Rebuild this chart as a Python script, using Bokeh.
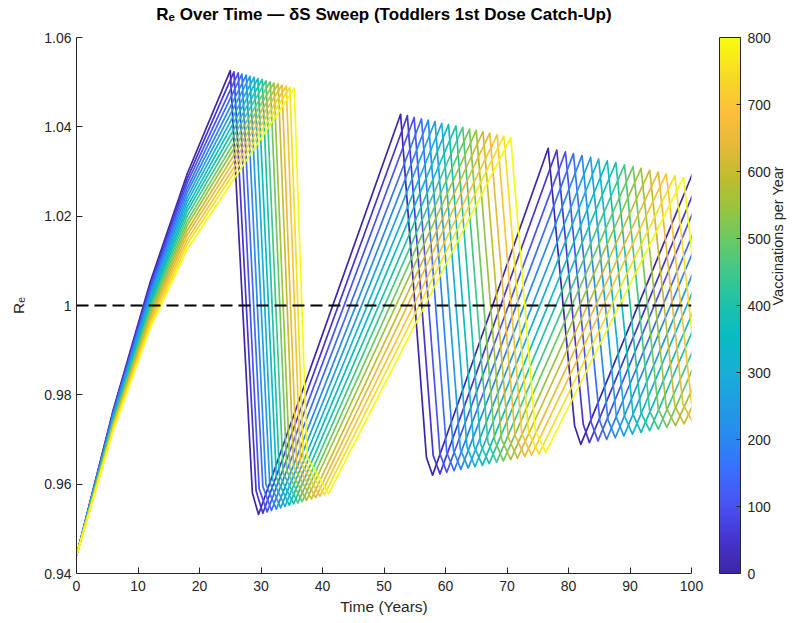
import math
from bokeh.plotting import figure
from bokeh.models import (ColumnDataSource, LinearColorMapper, ColorBar, FixedTicker, Span,
                          LinearAxis, Range1d, Title)
from bokeh.embed import file_html
from bokeh.resources import INLINE

# ---------------- data ----------------
vaccinations = [0, 50, 100, 150, 200, 250, 300, 350, 400, 450, 500, 550, 600, 650, 700, 750, 800]
R_start = 0.944
# first rise, sampled at t = 6, 12, 18 years
rise_t = [6.0, 12.0, 18.0]
R6 = [0.9768, 0.9765, 0.9762, 0.9759, 0.9756, 0.9753, 0.9750, 0.9747, 0.9745, 0.9742, 0.9739,
      0.9736, 0.9733, 0.9730, 0.9727, 0.9724, 0.9721]
R12 = [1.0053, 1.0047, 1.0040, 1.0034, 1.0027, 1.0021, 1.0014, 1.0008, 1.0002, 0.9995, 0.9989,
       0.9982, 0.9976, 0.9969, 0.9963, 0.9956, 0.9950]
R18 = [1.0295, 1.0284, 1.0274, 1.0263, 1.0253, 1.0242, 1.0232, 1.0221, 1.0211, 1.0200, 1.0189,
       1.0179, 1.0168, 1.0158, 1.0147, 1.0137, 1.0126]
# first peak
T1 = [25.0, 25.6, 26.3, 26.9, 27.6, 28.2, 28.9, 29.5, 30.2, 30.8, 31.5, 32.1, 32.8, 33.4, 34.1, 34.7, 35.4]
P1 = [1.0526, 1.0523, 1.0521, 1.0518, 1.0516, 1.0513, 1.0511, 1.0508, 1.0506, 1.0503, 1.0501,
      1.0498, 1.0496, 1.0493, 1.0491, 1.0488, 1.0486]
# end of the first steep fall
K1t = [28.6, 29.2, 29.7, 30.3, 30.8, 31.4, 31.9, 32.5, 33.0, 33.6, 34.2, 34.7, 35.3, 35.8, 36.4, 36.9, 37.5]
K1v = [0.9580, 0.9585, 0.9590, 0.9595, 0.9600, 0.9605, 0.9610, 0.9615, 0.9620, 0.9625, 0.9630,
       0.9635, 0.9640, 0.9645, 0.9650, 0.9655, 0.9660]
# first trough
U1 = [29.6, 30.3, 31.0, 31.7, 32.5, 33.2, 33.9, 34.6, 35.3, 36.0, 36.7, 37.4, 38.2, 38.9, 39.6, 40.3, 41.0]
V1 = [0.9532, 0.9535, 0.9538, 0.9541, 0.9544, 0.9547, 0.9550, 0.9553, 0.9556, 0.9558, 0.9561,
      0.9564, 0.9567, 0.9570, 0.9573, 0.9576, 0.9579]
# second peak
T2 = [52.7, 53.8, 54.9, 56.1, 57.2, 58.3, 59.4, 60.5, 61.7, 62.8, 63.9, 65.0, 66.1, 67.2, 68.4, 69.5, 70.6]
P2 = [1.0428, 1.0425, 1.0421, 1.0418, 1.0415, 1.0412, 1.0408, 1.0405, 1.0402, 1.0399, 1.0395,
      1.0392, 1.0389, 1.0386, 1.0382, 1.0379, 1.0376]
K2t = [56.9, 58.0, 59.1, 60.2, 61.3, 62.4, 63.5, 64.6, 65.7, 66.9, 68.0, 69.1, 70.2, 71.3, 72.4, 73.5, 74.6]
K2v = [0.9660, 0.9664, 0.9668, 0.9671, 0.9675, 0.9679, 0.9683, 0.9686, 0.9690, 0.9694, 0.9698,
       0.9701, 0.9705, 0.9709, 0.9713, 0.9716, 0.9720]
# second trough
U2 = [57.9, 59.1, 60.2, 61.4, 62.5, 63.7, 64.8, 66.0, 67.1, 68.3, 69.4, 70.6, 71.7, 72.9, 74.0, 75.2, 76.3]
V2 = [0.9620, 0.9623, 0.9626, 0.9630, 0.9633, 0.9636, 0.9639, 0.9642, 0.9646, 0.9649, 0.9652,
      0.9655, 0.9658, 0.9662, 0.9665, 0.9668, 0.9671]
# third peak
T3 = [76.7, 78.1, 79.5, 80.8, 82.2, 83.6, 84.9, 86.3, 87.7, 89.1, 90.5, 91.8, 93.2, 94.6, 95.9, 97.3, 98.7]
P3 = [1.0352, 1.0348, 1.0344, 1.0340, 1.0336, 1.0332, 1.0328, 1.0324, 1.0320, 1.0315, 1.0311,
      1.0307, 1.0303, 1.0299, 1.0295, 1.0291, 1.0287]
K3t = [81.0, 82.4, 83.7, 85.1, 86.4, 87.8, 89.1, 90.5, 91.8, 93.2, 94.6, 95.9, 97.3, 98.6, 100.0, 101.3, 102.7]
K3v = [0.9730, 0.9734, 0.9738, 0.9741, 0.9745, 0.9749, 0.9753, 0.9756, 0.9760, 0.9764, 0.9768,
       0.9771, 0.9775, 0.9779, 0.9783, 0.9786, 0.9790]
# third trough
U3 = [82.0, 83.4, 84.8, 86.2, 87.6, 89.0, 90.4, 91.8, 93.2, 94.6, 96.0, 97.4, 98.8, 100.2, 101.6, 103.0, 104.4]
V3 = [0.9689, 0.9693, 0.9697, 0.9700, 0.9704, 0.9708, 0.9712, 0.9716, 0.9720, 0.9723, 0.9727,
      0.9731, 0.9735, 0.9739, 0.9742, 0.9746, 0.9750]
# fourth rise (continues past the right edge)
t_end = 106.0
R_end = [1.049, 1.044, 1.040, 1.035, 1.031, 1.026, 1.022, 1.017, 1.013, 1.008, 1.004,
         0.999, 0.995, 0.990, 0.986, 0.981, 0.977]

x_ticks = [0, 10, 20, 30, 40, 50, 60, 70, 80, 90, 100]
y_ticks = [0.94, 0.96, 0.98, 1.0, 1.02, 1.04, 1.06]
y_tick_labels = ["0.94", "0.96", "0.98", "1", "1.02", "1.04", "1.06"]
cb_ticks = [0, 100, 200, 300, 400, 500, 600, 700, 800]
threshold = 1.0

# ---------------- styling ----------------
FONT = "Liberation Sans"
AX = "#262626"
parula_stops = [
    (0.00, (62, 38, 168)), (0.07, (70, 56, 212)), (0.13, (72, 84, 245)), (0.20, (56, 114, 254)),
    (0.26, (40, 140, 240)), (0.32, (32, 158, 228)), (0.38, (22, 176, 213)), (0.44, (8, 187, 196)),
    (0.50, (28, 194, 170)), (0.56, (62, 199, 140)), (0.62, (104, 201, 102)), (0.68, (150, 197, 64)),
    (0.74, (192, 188, 46)), (0.80, (228, 186, 56)), (0.86, (252, 190, 58)), (0.92, (246, 214, 40)),
    (1.00, (249, 251, 14)),
]
palette = []
for i in range(256):
    f = i / 255
    for j in range(len(parula_stops) - 1):
        a, ca = parula_stops[j]
        b, cb_ = parula_stops[j + 1]
        if a <= f <= b:
            w = (f - a) / (b - a)
            c = [round(ca[k] + w * (cb_[k] - ca[k])) for k in range(3)]
            palette.append("#%02x%02x%02x" % tuple(c))
            break

mapper = LinearColorMapper(palette=palette, low=0, high=800)

xs, ys = [], []
for i in range(len(vaccinations)):
    xs.append([0.0] + rise_t + [T1[i], K1t[i], U1[i], T2[i], K2t[i], U2[i],
                                T3[i], K3t[i], U3[i], t_end])
    ys.append([R_start, R6[i], R12[i], R18[i], P1[i], K1v[i], V1[i], P2[i], K2v[i], V2[i],
               P3[i], K3v[i], V3[i], R_end[i]])

src = ColumnDataSource(dict(xs=xs, ys=ys, v=vaccinations))

p = figure(frame_width=615, frame_height=536, x_range=(0, 100), y_range=(0.94, 1.06),
           output_backend="svg", toolbar_location=None,
           min_border_left=76, min_border_top=37, min_border_bottom=0, min_border_right=0)
p.background_fill_color = "white"
p.border_fill_color = "white"
p.outline_line_color = None
p.xgrid.grid_line_color = None
p.ygrid.grid_line_color = None

p.multi_line("xs", "ys", source=src, line_color={"field": "v", "transform": mapper},
             line_width=1.7, line_join="round")

p.add_layout(Span(location=threshold, dimension="width", line_color="black",
                  line_dash="12 6", line_width=2))

for ax in (p.xaxis[0], p.yaxis[0]):
    ax.axis_line_color = AX
    ax.major_tick_line_color = AX
    ax.major_tick_in = 6
    ax.major_tick_out = 0
    ax.minor_tick_line_color = None
    ax.major_label_text_font = FONT
    ax.major_label_text_font_size = "14px"
    ax.major_label_text_color = AX
    ax.axis_label_text_font = FONT
    ax.axis_label_text_font_size = "15.5px"
    ax.axis_label_text_font_style = "normal"
    ax.axis_label_text_color = AX

p.xaxis.ticker = FixedTicker(ticks=x_ticks)
p.yaxis.ticker = FixedTicker(ticks=y_ticks)
p.yaxis.major_label_overrides = {t: s for t, s in zip(y_ticks, y_tick_labels)}
p.xaxis.axis_label = "Time (Years)"
p.yaxis.axis_label = "R\u2091"
p.xaxis.major_label_standoff = 7
p.xaxis.axis_label_standoff = 4
p.yaxis.major_label_standoff = 5
p.yaxis.axis_label_standoff = 14

p.title.text = "R\u2091 Over Time \u2014 \u03b4S Sweep (Toddlers 1st Dose Catch-Up)"
p.title.align = "center"
p.title.text_font = FONT
p.title.text_font_size = "17px"
p.title.text_font_style = "bold"
p.title.text_color = "black"
p.title.standoff = 4
# thin spacer between the frame and the title
p.add_layout(Title(text=" ", text_font_size="2px", standoff=8), "above")

cb = ColorBar(color_mapper=mapper, ticker=FixedTicker(ticks=cb_ticks), width=21, height=536,
              padding=0, margin=0, location=(28, 0),
              major_tick_in=4, major_tick_out=0, major_tick_line_color=AX,
              major_label_text_font=FONT, major_label_text_font_size="14px",
              major_label_text_color=AX, label_standoff=7,
              bar_line_color=AX, border_line_color=None, background_fill_alpha=0)
p.add_layout(cb, "right")

# colour-bar caption, carried by an empty axis placed after the colour bar
p.extra_y_ranges = {"cbcap": Range1d(0, 1)}
cap = LinearAxis(y_range_name="cbcap", ticker=FixedTicker(ticks=[]),
                 axis_line_color=None, major_tick_line_color=None, minor_tick_line_color=None,
                 major_tick_in=0, major_tick_out=0, major_label_standoff=0,
                 major_label_text_font_size="0px",
                 axis_label="Vaccinations per Year", axis_label_standoff=4,
                 axis_label_text_font=FONT, axis_label_text_font_size="14.5px",
                 axis_label_text_font_style="normal", axis_label_text_color=AX)
try:
    cap.axis_label_orientation = math.pi / 2
except Exception:
    pass
p.add_layout(cap, "right")

open("out.html", "w").write(file_html(p, INLINE))
